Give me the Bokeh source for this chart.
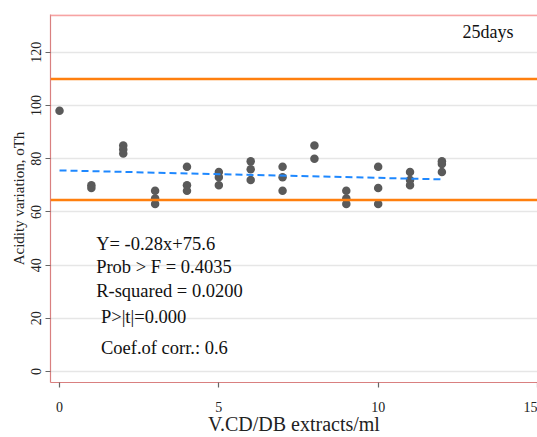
from bokeh.plotting import figure
from bokeh.models import Range1d, FixedTicker, Span, Label
from bokeh.embed import file_html
from bokeh.resources import INLINE

# Data
x_vals = [0,
          1, 1,
          2, 2, 2,
          3, 3, 3,
          4, 4, 4,
          5, 5, 5,
          6, 6, 6,
          7, 7, 7,
          8, 8,
          9, 9, 9,
          10, 10, 10,
          11, 11, 11,
          12, 12, 12]
y_vals = [98,
          70, 69,
          85, 83.5, 82,
          68, 65, 63,
          77, 70, 68,
          75, 73, 70,
          79, 76, 72,
          77, 73, 68,
          85, 80,
          68, 65, 63,
          77, 69, 63,
          75, 72, 70,
          79, 78, 75]
slope = -0.28
intercept = 75.6
fit_x = [0, 12]
upper_limit = 110
lower_limit = 64.5
x_ticks = [0, 5, 10, 15]
y_ticks = [0, 20, 40, 60, 80, 100, 120]
annotations = ["Y= -0.28x+75.6", "Prob > F = 0.4035", "R-squared = 0.0200",
               "P>|t|=0.000", "Coef.of corr.: 0.6"]
annot_y = [48, 39.2, 30.4, 20.6, 8.8]

serif = "Liberation Serif"

y_top = 134.2
p = figure(width=537, height=437, output_backend="svg", toolbar_location=None,
           x_range=Range1d(-0.283, 15.0), y_range=Range1d(-4.11, y_top),
           min_border_left=50, min_border_right=0, min_border_top=14,
           min_border_bottom=53)

p.outline_line_color = None
p.background_fill_color = "white"
p.border_fill_color = "white"

# grids
p.xgrid.visible = False
p.ygrid.ticker = FixedTicker(ticks=y_ticks)
p.ygrid.grid_line_color = "#e6e6e6"
p.ygrid.grid_line_width = 1.5

# axes
p.xaxis.ticker = FixedTicker(ticks=x_ticks)
p.yaxis.ticker = FixedTicker(ticks=y_ticks)
for ax in (p.xaxis[0], p.yaxis[0]):
    ax.axis_line_color = "#d98080"
    ax.axis_line_width = 1.2
    ax.major_tick_line_color = "#666666"
    ax.major_tick_line_width = 1.2
    ax.major_tick_out = 5
    ax.major_tick_in = 0
    ax.minor_tick_line_color = None
    ax.major_label_text_font = serif
    ax.major_label_text_font_size = "14px"
    ax.major_label_text_color = "#222222"
    ax.axis_label_text_font = serif
    ax.axis_label_text_font_style = "normal"
    ax.axis_label_text_color = "#222222"

p.xaxis.axis_label = "V.CD/DB extracts/ml"
p.xaxis.axis_label_text_font_size = "20px"
p.xaxis.major_label_standoff = 14
p.xaxis.axis_label_standoff = -2

p.yaxis.axis_label = "Acidity variation, oTh"
p.yaxis.axis_label_text_font_size = "15px"
p.yaxis.major_label_orientation = "vertical"
p.yaxis.major_label_standoff = 4
p.yaxis.axis_label_standoff = 2

# top border and reference lines
p.add_layout(Span(location=y_top - 0.3, dimension="width", line_color="#f7a3a3", line_width=2))
p.add_layout(Span(location=upper_limit, dimension="width", line_color="#ff7f0e", line_width=2.5))
p.add_layout(Span(location=lower_limit, dimension="width", line_color="#ff7f0e", line_width=2.5))

# points
p.scatter(x_vals, y_vals, size=8.5, color="#5a5a5a", line_color=None)

# fit line
fit_y = [slope * xv + intercept for xv in fit_x]
p.line(fit_x, fit_y, line_color="#1e88ff", line_width=2, line_dash="7 4")

# annotations
for txt, yy in zip(annotations, annot_y):
    xx = 1.15 if not txt.startswith(("P>", "Coef")) else 1.3
    p.add_layout(Label(x=xx, y=yy, text=txt, text_font=serif, text_font_size="18.5px",
                       text_color="#111111", text_baseline="middle"))

p.add_layout(Label(x=12.65, y=127.5, text="25days", text_font=serif, text_font_size="18px",
                   text_color="#111111", text_baseline="middle"))

open("out.html", "w").write(file_html(p, INLINE))
